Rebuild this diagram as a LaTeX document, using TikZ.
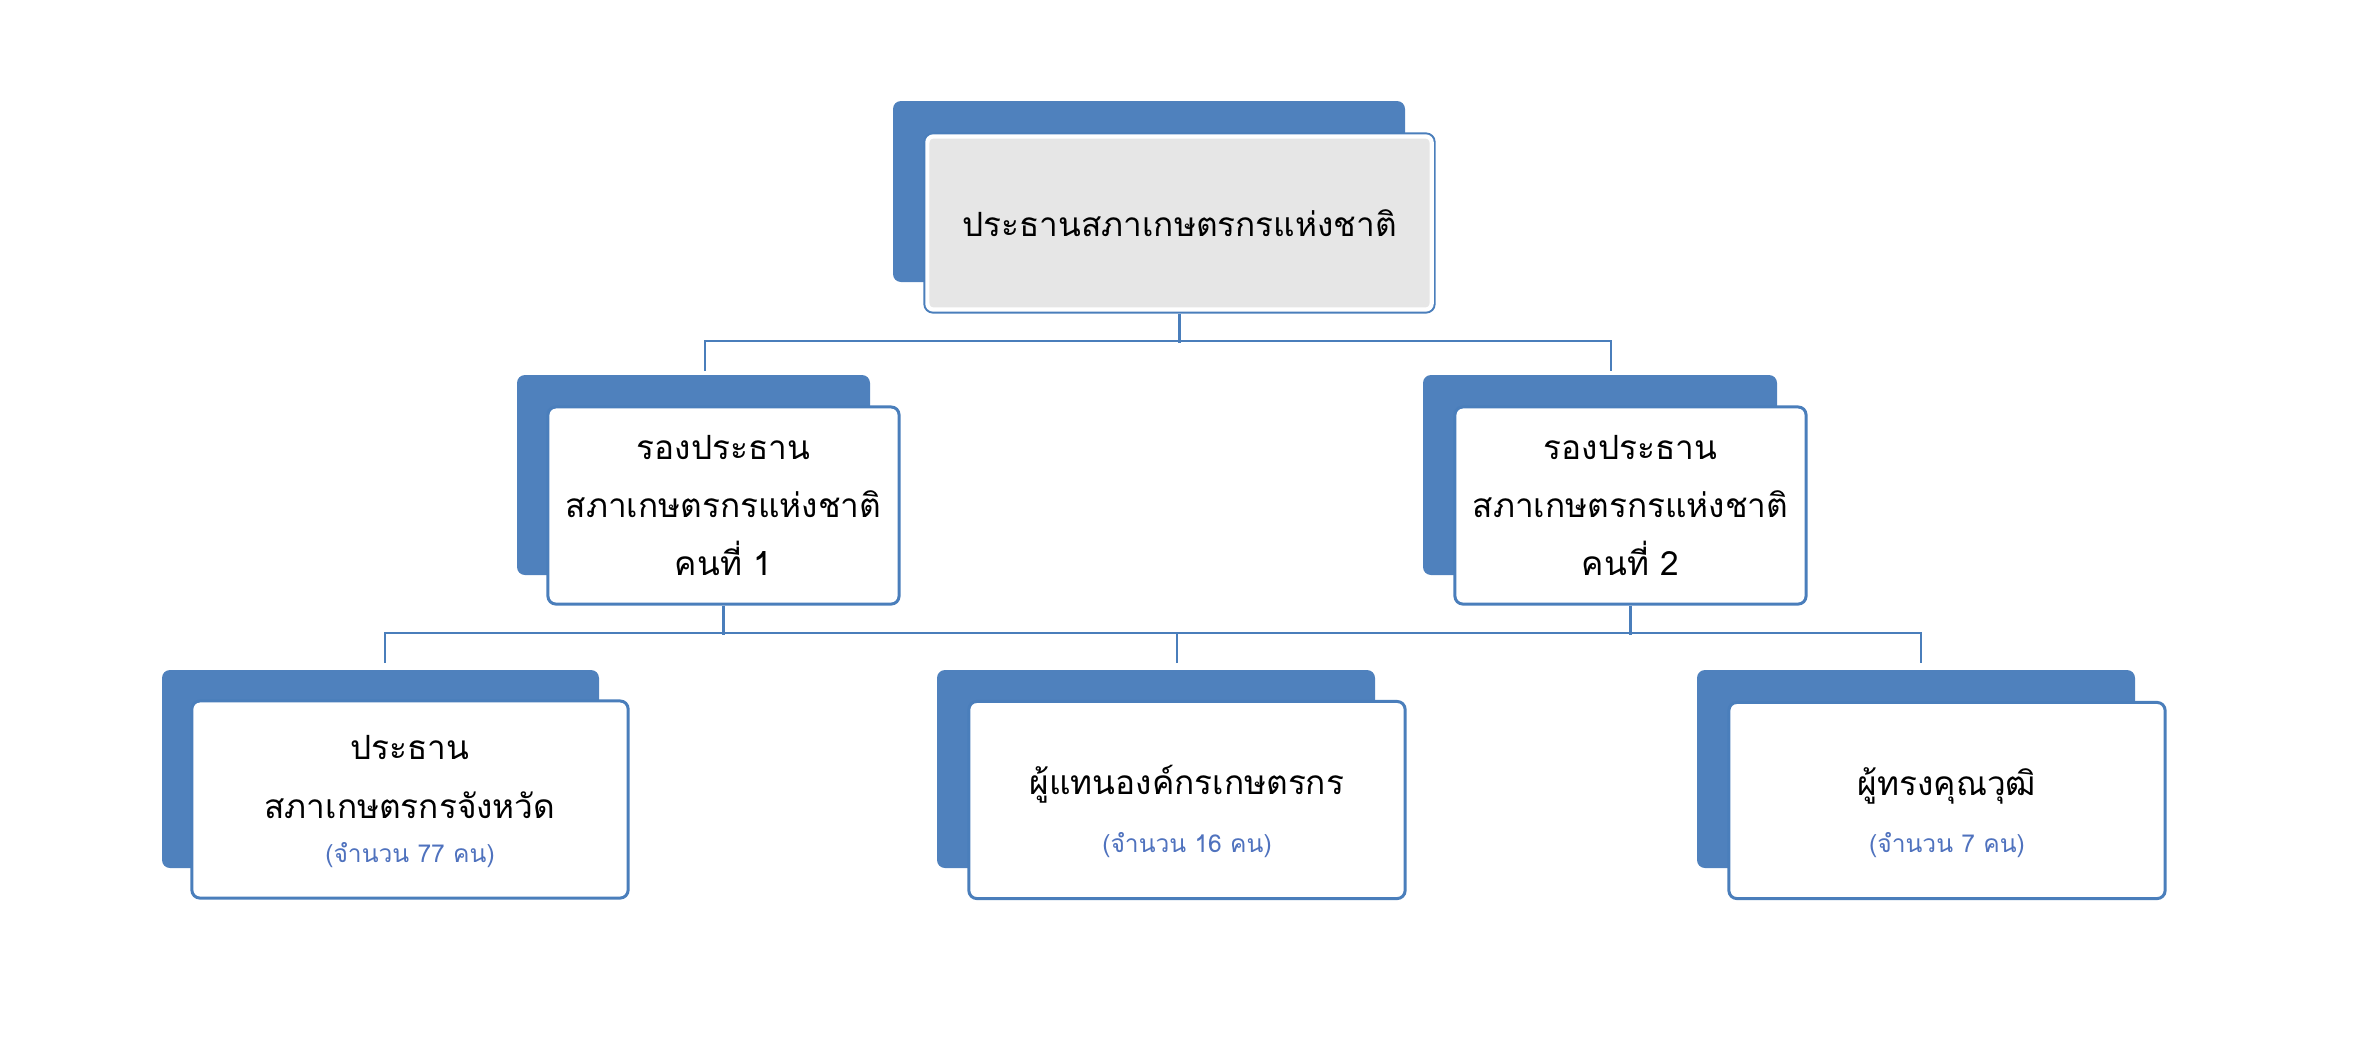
\documentclass[tikz,border=0pt]{standalone}
\usepackage{fontspec}
\newfontfamily\thaifont[Script=Thai]{Loma}
\definecolor{backblue}{HTML}{4F81BD}
\definecolor{lineblue}{HTML}{4A7EBB}
\definecolor{noteblue}{HTML}{4F72BE}
\definecolor{topgray}{HTML}{E6E6E6}
\begin{document}
\begin{tikzpicture}[x=0.01cm,y=-0.01cm,
  backbox/.style={fill=backblue, rounded corners=0.08cm},
  frontbox/.style={draw=lineblue, line width=0.85pt, fill=white, rounded corners=0.08cm, inner sep=0pt, align=center,
    font=\thaifont\fontsize{9.5}{16.5}\selectfont},
  link/.style={draw=lineblue, line width=0.8pt},
  maintext/.style={font=\thaifont\fontsize{9.5}{16.5}\selectfont, align=center, inner sep=0pt},
  notetext/.style={font=\thaifont\fontsize{7}{9}\selectfont, text=noteblue, inner sep=0pt}]
\useasboundingbox (0,0) rectangle (2362,1045);

% back boxes
\path[backbox] (893,101) rectangle (1405,282);
\path[backbox] (517,375) rectangle (870,575);
\path[backbox] (1423,375) rectangle (1777,575);
\path[backbox] (162,670) rectangle (599,868);
\path[backbox] (937,670) rectangle (1375,868);
\path[backbox] (1697,670) rectangle (2135,868);

% front boxes
\node[frontbox, fill=topgray, minimum width=5.09cm, minimum height=1.78cm] (top) at (1179.5,223) {ประธานสภาเกษตรกรแห่งชาติ};
\draw[white, line width=1.2pt, rounded corners=0.06cm] ([shift={(4,4)}]top.north west) rectangle ([shift={(-4,-4)}]top.south east);
\node[frontbox, minimum width=3.51cm, minimum height=1.97cm] (ml) at (723.5,505.5) {รองประธาน\\สภาเกษตรกรแห่งชาติ\\คนที่ 1};
\node[frontbox, minimum width=3.51cm, minimum height=1.97cm] (mr) at (1630.5,505.5) {รองประธาน\\สภาเกษตรกรแห่งชาติ\\คนที่ 2};
\node[frontbox, minimum width=4.36cm, minimum height=1.97cm] (bl) at (410,799.5) {};
\node[frontbox, minimum width=4.36cm, minimum height=1.97cm] (bm) at (1187,800) {};
\node[frontbox, minimum width=4.36cm, minimum height=1.96cm] (br) at (1947,800.5) {};

% texts in bottom boxes
\node[maintext] (blt) at (410,777) {ประธาน\\สภาเกษตรกรจังหวัด};
\node[notetext] (bln) at (410,855) {(จำนวน 77 คน)};
\node[maintext] (bmt) at (1187,784) {ผู้แทนองค์กรเกษตรกร};
\node[notetext] (bmn) at (1187,845) {(จำนวน 16 คน)};
\node[maintext] (brt) at (1947,786) {ผู้ทรงคุณวุฒิ};
\node[notetext] (brn) at (1947,845) {(จำนวน 7 คน)};

% connector points
\coordinate (dml) at (705,371);
\coordinate (dmr) at (1611,371);
\coordinate (dbl) at (385,663);
\coordinate (dbm) at (1177,663);
\coordinate (dbr) at (1921,663);

% connectors
\draw[link] (top.south) -- ++(0,29);
\draw[link] (dml) -- ++(0,-30) -| (dmr);
\draw[link] (ml.south) -- ++(0,29);
\draw[link] (mr.south) -- ++(0,29);
\draw[link] (dbl) -- ++(0,-30) -| (dbr);
\draw[link] (dbm) -- ++(0,-30);
\end{tikzpicture}
\end{document}
